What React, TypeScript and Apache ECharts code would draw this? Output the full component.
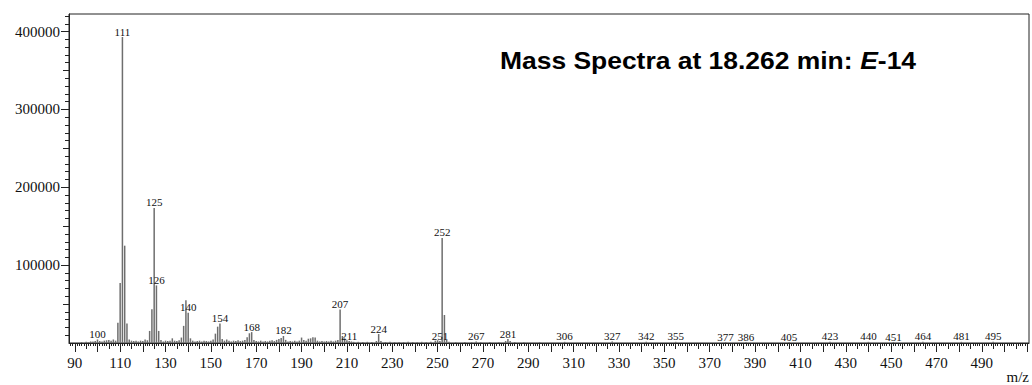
import React, { useEffect, useRef } from "react";
import * as echarts from "echarts";

// m/z values and their abundances
const mzValues = [
  93, 95, 96, 97, 98, 99, 100, 101, 102, 103, 104, 105, 106, 107, 108, 109, 110, 111, 112, 113,
  114, 115, 116, 117, 118, 119, 120, 121, 122, 123, 124, 125, 126, 127, 128, 129, 130, 131, 132, 133,
  134, 135, 136, 137, 138, 139, 140, 141, 142, 143, 144, 145, 146, 147, 148, 149, 150, 151, 152, 153,
  154, 155, 156, 157, 158, 159, 160, 161, 162, 163, 164, 165, 166, 167, 168, 169, 170, 171, 172, 173,
  174, 175, 176, 177, 178, 179, 180, 181, 182, 183, 184, 185, 186, 187, 188, 189, 190, 191, 192, 193,
  194, 195, 196, 197, 198, 199, 200, 201, 202, 203, 204, 205, 206, 207, 208, 209, 210, 211, 212, 213,
  215, 217, 219, 221, 223, 224, 225, 227, 229, 231, 233, 235, 237, 239, 241, 243, 245, 247, 249, 250,
  251, 252, 253, 254, 255, 258, 262, 265, 267, 269, 273, 277, 280, 281, 282, 284, 288, 295, 306, 327,
  342, 355, 377, 386, 405, 423, 440, 451, 464, 481, 495,
];

const abundances = [
  1200, 1500, 1000, 2000, 1800, 2500, 4500, 2500, 2000, 3000, 3500, 4000, 3000, 4500, 3000, 26000, 77000, 393000, 125000, 25000,
  4500, 3000, 2500, 3000, 2000, 3000, 2500, 4500, 3500, 15500, 43500, 173500, 74000, 15500, 4000, 2000, 3000, 2500, 3000, 6000,
  3000, 2500, 3500, 7000, 22000, 55000, 39000, 6000, 3000, 2000, 2500, 3000, 2000, 3000, 2500, 2000, 3000, 4500, 12000, 21000,
  25000, 5000, 3000, 4500, 3000, 2000, 3000, 2500, 3500, 2500, 3000, 4000, 7500, 12500, 14000, 4000, 2500, 2000, 3000, 2000,
  2500, 2000, 3000, 3500, 2500, 4000, 5000, 6500, 9000, 4000, 2000, 2500, 2000, 3000, 2000, 3000, 7000, 4000, 3000, 5500,
  6000, 7500, 7000, 3000, 2000, 2500, 2000, 2500, 2000, 3000, 2000, 3000, 4000, 43000, 9000, 6000, 3500, 2500, 2000, 1500,
  1500, 1200, 1500, 1200, 2500, 11500, 2500, 1200, 1500, 1000, 1200, 1000, 1500, 1200, 1000, 1500, 1200, 1500, 3000, 3500,
  2500, 135000, 36000, 4000, 1500, 1000, 1200, 1000, 2000, 1000, 1200, 1000, 2500, 5000, 2500, 1200, 1000, 1000, 1500, 2000,
  1500, 1500, 1200, 1200, 1200, 1500, 1500, 1200, 1500, 1500, 1500,
];

const labeledPeaks = [
  100, 111, 125, 126, 140, 154, 168, 182, 207, 211, 224, 251, 252, 267, 281, 306, 327, 342, 355,
  377, 386, 405, 423, 440, 451, 464, 481, 495,
];

const xTickLabels = [90, 110, 130, 150, 170, 190, 210, 230, 250, 270, 290, 310, 330, 350, 370, 390, 410, 430, 450, 470, 490];
const yTickLabels = [100000, 200000, 300000, 400000];

const X_MIN = 87.44;
const X_MAX = 510.8;
const Y_MAX = 422600;

function range(start: number, end: number, step: number) {
  const out: number[] = [];
  for (let v = start; v <= end + 1e-9; v += step) out.push(v);
  return out;
}

export default function App() {
  const ref = useRef<HTMLDivElement>(null);

  useEffect(() => {
    if (!ref.current) return;
    const chart = echarts.init(ref.current, null, { renderer: "svg" });

    const serif = "Liberation Serif";
    const tickColor = "#222";

    const xMajor = range(90, 510, 10);
    const xMid = range(95, 505, 10);
    const xMinor = range(88, 510, 1);
    const yMajor = range(100000, 400000, 100000);
    const yMid = range(50000, 400000, 100000);
    const yMinor = range(10000, 420000, 10000);

    const baseX = {
      type: "value" as const,
      min: X_MIN,
      max: X_MAX,
      position: "bottom" as const,
      splitLine: { show: false },
    };
    const baseY = {
      type: "value" as const,
      min: 0,
      max: Y_MAX,
      position: "left" as const,
      splitLine: { show: false },
    };

    const data = mzValues.map((m, i) => {
      const show = labeledPeaks.includes(m);
      return {
        value: [m, abundances[i]],
        label: show
          ? {
              show: true,
              position: "top",
              distance: 0,
              formatter: String(m),
              fontFamily: serif,
              fontSize: 11,
              color: "#111",
            }
          : { show: false },
      };
    });

    const titleFont = { fontFamily: "Liberation Sans", fontWeight: "bold", fontSize: 23, fill: "#000" };

    chart.setOption({
      animation: false,
      grid: {
        left: 69,
        right: 3,
        top: 14,
        bottom: 42,
        show: true,
        borderColor: "#222",
        borderWidth: 1,
        backgroundColor: "transparent",
      },
      xAxis: [
        {
          ...baseX,
          axisLine: { show: true, lineStyle: { color: tickColor, width: 1 } },
          axisTick: { show: true, customValues: xMajor, length: 9, lineStyle: { color: tickColor } },
          axisLabel: {
            show: true,
            customValues: xTickLabels,
            margin: 12,
            fontFamily: serif,
            fontSize: 15,
            color: "#111",
            formatter: (v: number) => String(v),
          },
        },
        {
          ...baseX,
          axisLine: { show: false },
          axisTick: { show: true, customValues: xMid, length: 6, lineStyle: { color: tickColor } },
          axisLabel: { show: false },
        },
        {
          ...baseX,
          axisLine: { show: false },
          axisTick: { show: true, customValues: xMinor, length: 3, lineStyle: { color: tickColor } },
          axisLabel: { show: false },
        },
      ],
      yAxis: [
        {
          ...baseY,
          axisLine: { show: true, lineStyle: { color: tickColor, width: 1 } },
          axisTick: { show: true, customValues: yMajor, length: 8, lineStyle: { color: tickColor } },
          axisLabel: {
            show: true,
            customValues: yTickLabels,
            margin: 9,
            fontFamily: serif,
            fontSize: 15,
            color: "#111",
            formatter: (v: number) => String(v),
          },
        },
        {
          ...baseY,
          axisLine: { show: false },
          axisTick: { show: true, customValues: yMid, length: 6, lineStyle: { color: tickColor } },
          axisLabel: { show: false },
        },
        {
          ...baseY,
          axisLine: { show: false },
          axisTick: { show: true, customValues: yMinor, length: 4, lineStyle: { color: tickColor } },
          axisLabel: { show: false },
        },
      ],
      graphic: [
        {
          type: "text",
          x: 500,
          y: 61,
          scaleX: 1.15,
          style: {
            text: "{a|Mass Spectra at 18.262 min: }{b|E}{a|-14}",
            verticalAlign: "middle",
            align: "left",
            rich: {
              a: { ...titleFont },
              b: { ...titleFont, fontStyle: "italic" },
            },
          },
        },
        {
          type: "text",
          right: 3,
          top: 369,
          style: { text: "m/z", font: "15px 'Liberation Serif'", fill: "#111" },
        },
      ],
      series: [
        {
          type: "bar",
          xAxisIndex: 0,
          yAxisIndex: 0,
          barWidth: 1.5,
          itemStyle: { color: "#6e6e6e" },
          data,
        },
      ],
    });

    return () => chart.dispose();
  }, []);

  return <div ref={ref} style={{ width: 1032, height: 385, position: "absolute", left: 0, top: 0 }} />;
}
